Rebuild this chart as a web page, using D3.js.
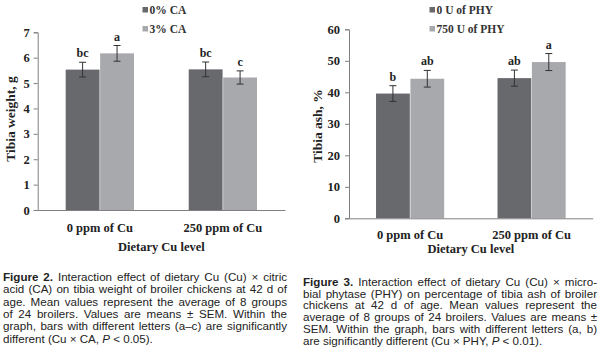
<!DOCTYPE html>
<html><head><meta charset="utf-8">
<script src="https://cdn.jsdelivr.net/npm/d3@7"></script>
<style>
body{margin:0;background:#fff;}
svg{display:block;}
</style></head>
<body>
<svg id="chart" width="600" height="355"></svg>
<script>
// ---- Data ----
const categories = ["0 ppm of Cu", "250 ppm of Cu"];
// Figure 2: tibia weight (g)
const caSeries = ["0% CA", "3% CA"];
const caValues = [[5.53, 6.17], [5.54, 5.22]];     // [category][series]
const caErrors = [[0.29, 0.31], [0.29, 0.26]];
const caLetters = [["bc", "a"], ["bc", "c"]];
const caTicks = [0, 1, 2, 3, 4, 5, 6, 7];
// Figure 3: tibia ash (%)
const phySeries = ["0 U of PHY", "750 U of PHY"];
const phyValues = [[39.6, 44.3], [44.5, 49.6]];
const phyErrors = [[2.5, 2.65], [2.55, 2.7]];
const phyLetters = [["b", "ab"], ["ab", "a"]];
const phyTicks = [0, 10, 20, 30, 40, 50, 60];

const captionLeft = [
  "Figure 2. Interaction effect of dietary Cu (Cu) × citric",
  "acid (CA) on tibia weight of broiler chickens at 42 d of",
  "age. Mean values represent the average of 8 groups",
  "of 24 broilers. Values are means ± SEM. Within the",
  "graph, bars with different letters (a–c) are significantly",
  "different (Cu × CA, P < 0.05)."
];
const captionRight = [
  "Figure 3. Interaction effect of dietary Cu (Cu) × micro-",
  "bial phytase (PHY) on percentage of tibia ash of broiler",
  "chickens at 42 d of age. Mean values represent the",
  "average of 8 groups of 24 broilers. Values are means ±",
  "SEM. Within the graph, bars with different letters (a, b)",
  "are significantly different (Cu × PHY, P < 0.01)."
];

const colors = ["#68696d", "#a8a9ad"];
const serif = "'Liberation Serif','Times New Roman',serif";
const sans = "'Liberation Sans',Arial,sans-serif";
const svg = d3.select("#chart");

function drawChart(cfg) {
  const g = svg.append("g");
  const x = d3.scaleBand().domain(categories).range([cfg.x0, cfg.x1])
    .paddingInner(cfg.pi).paddingOuter(cfg.po);
  const xs = d3.scaleBand().domain(cfg.series).range([0, x.bandwidth()]);
  const y = d3.scaleLinear().domain(cfg.domain).range([cfg.y0, cfg.y1]);

  categories.forEach((c, ci) => {
    cfg.series.forEach((s, si) => {
      const v = cfg.values[ci][si], e = cfg.errors[ci][si];
      const bx = x(c) + xs(s);
      g.append("rect").attr("x", bx + 0.3).attr("width", xs.bandwidth() - 0.6)
        .attr("y", y(v)).attr("height", y(0) - y(v)).attr("fill", colors[si]);
      const cx = bx + xs.bandwidth() / 2;
      g.append("line").attr("x1", cx).attr("x2", cx).attr("y1", y(v + e)).attr("y2", y(v - e))
        .attr("stroke", "#333").attr("stroke-width", 1);
      [v + e, v - e].forEach(t => g.append("line").attr("x1", cx - 3.5).attr("x2", cx + 3.5)
        .attr("y1", y(t)).attr("y2", y(t)).attr("stroke", "#333").attr("stroke-width", 1));
      g.append("text").attr("x", cx).attr("y", y(v + e) - 5).attr("text-anchor", "middle")
        .attr("font-family", serif).attr("font-weight", "bold").attr("font-size", 12)
        .attr("fill", "#222").text(cfg.letters[ci][si]);
    });
  });

  const ya = g.append("g").attr("transform", `translate(${cfg.x0},0)`)
    .call(d3.axisLeft(y).tickValues(cfg.ticks).tickSize(4).tickPadding(cfg.tp).tickFormat(d3.format("d")));
  ya.select(".domain").attr("stroke", "#808080");
  ya.selectAll(".tick line").attr("stroke", "#808080");
  ya.selectAll("text").attr("font-family", serif).attr("font-weight", "bold")
    .attr("font-size", 12.5).attr("fill", "#222");

  const xa = g.append("g").attr("transform", `translate(0,${cfg.y0})`)
    .call(d3.axisBottom(x).tickSize(0).tickPadding(cfg.xlp));
  xa.select(".domain").attr("stroke", "#808080");
  xa.selectAll("text").attr("font-family", serif).attr("font-weight", "bold")
    .attr("font-size", 12.5).attr("fill", "#222");

  g.append("text").attr("x", (cfg.x0 + cfg.x1) / 2).attr("y", cfg.xtY).attr("text-anchor", "middle")
    .attr("font-family", serif).attr("font-weight", "bold").attr("font-size", 12.5)
    .attr("fill", "#222").text("Dietary Cu level");
  g.append("text").attr("transform", `translate(${cfg.ytX},${cfg.ytY}) rotate(-90)`)
    .attr("text-anchor", "middle").attr("font-family", serif).attr("font-weight", "bold")
    .attr("font-size", 13.5).attr("fill", "#222").text(cfg.yTitle);

  cfg.series.forEach((s, si) => {
    const ly = cfg.legY + si * 19;
    g.append("rect").attr("x", cfg.legX).attr("y", ly - 7).attr("width", 5.5).attr("height", 5.5)
      .attr("fill", colors[si]);
    g.append("text").attr("x", cfg.legX + 7).attr("y", ly).attr("font-family", serif)
      .attr("font-weight", "bold").attr("font-size", 11.5).attr("fill", "#333").text(s);
  });
}

drawChart({series: caSeries, values: caValues, errors: caErrors, letters: caLetters, ticks: caTicks,
  domain: [0, 7], x0: 37.7, x1: 285, y0: 210, y1: 32.3, pi: 0.44, po: 0.225, tp: 4, xlp: 13,
  xtY: 251, ytX: 15, ytY: 119, yTitle: "Tibia weight, g", legX: 142.5, legY: 14});

drawChart({series: phySeries, values: phyValues, errors: phyErrors, letters: phyLetters, ticks: phyTicks,
  domain: [0, 60], x0: 349, x1: 592.7, y0: 218.3, y1: 29.3, pi: 0.434, po: 0.22, tp: 5, xlp: 12,
  xtY: 253, ytX: 322, ytY: 126, yTitle: "Tibia ash, %", legX: 429.5, legY: 14});

function caption(lines, x0, width, y0, lh) {
  lines.forEach((line, li) => {
    const t = svg.append("text").attr("y", y0 + li * lh).attr("font-family", sans)
      .attr("font-size", 11.6).attr("fill", "#222");
    const words = line.split(" ");
    const spans = words.map((w, wi) => {
      const sp = t.append("tspan").text(w);
      if (li === 0 && (wi === 0 || wi === 1)) sp.attr("font-weight", "bold");
      if (w === "P") sp.attr("font-style", "italic");
      return sp;
    });
    let widths = spans.map(s => s.node().getComputedTextLength());
    let total = d3.sum(widths);
    const last = li === lines.length - 1;
    let gap = last ? 3.2 : (width - total) / (words.length - 1);
    if (gap < 1.8) {
      // shrink slightly to fit
      const scale = (width - 1.8 * (words.length - 1)) / total;
      t.attr("font-size", 11.6 * scale);
      widths = spans.map(s => s.node().getComputedTextLength());
      total = d3.sum(widths);
      gap = (width - total) / (words.length - 1);
    }
    let cx = x0;
    spans.forEach((s, i) => { s.attr("x", cx); cx += widths[i] + gap; });
  });
}
caption(captionLeft, 3, 284, 281, 12.3);
caption(captionRight, 303, 294, 286, 11.7);
</script>
</body></html>
